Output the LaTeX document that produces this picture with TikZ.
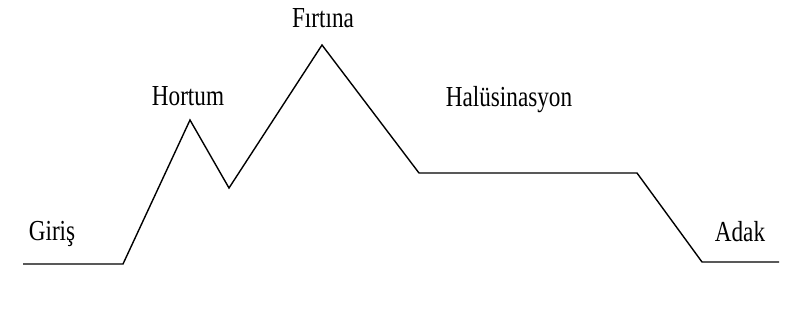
\documentclass[tikz,border=0pt]{standalone}
\usepackage{fontspec}
\setmainfont{Liberation Serif}[FakeStretch=0.8]
\begin{document}
\begin{tikzpicture}[x=1pt,y=-1pt,
  lbl/.style={anchor=base,inner sep=0pt,font=\fontsize{29}{32}\selectfont},
  curve/.style={line width=1.4pt,line join=miter}]
\useasboundingbox (0,0) rectangle (800,322);
\coordinate (p0) at (23,264);
\coordinate (p1) at (123,264);
\coordinate (p2) at (190,120);
\coordinate (p3) at (229,188);
\coordinate (p4) at (322,45);
\coordinate (p5) at (419,173);
\coordinate (p6) at (637,173);
\coordinate (p7) at (702,262);
\coordinate (p8) at (779,262);
\draw[curve] (p0) -- (p1) -- (p2) -- (p3) -- (p4) -- (p5) -- (p6) -- (p7) -- (p8);
\node[lbl] (giris) at (52,240) {Giriş};
\node[lbl] (hortum) at (188,105) {Hortum};
\node[lbl] (firtina) at (323,27) {Fırtına};
\node[lbl] (hal) at (509,106) {Halüsinasyon};
\node[lbl] (adak) at (740,241) {Adak};
\end{tikzpicture}
\end{document}
